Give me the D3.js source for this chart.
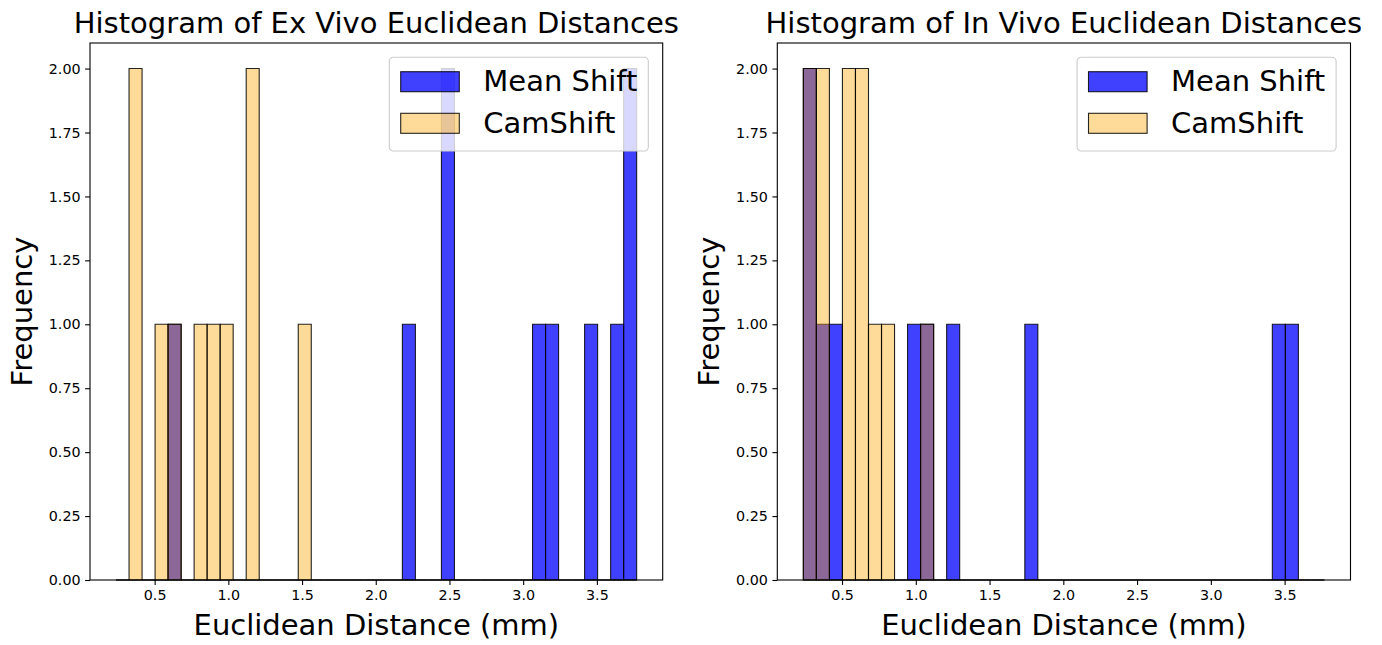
<!DOCTYPE html>
<html>
<head>
<meta charset="utf-8">
<script src="https://cdn.jsdelivr.net/npm/d3@7"></script>
<style>
  body { margin: 0; background: #fff; }
  svg { display: block; font-family: "DejaVu Sans", sans-serif; }
</style>
</head>
<body>
<div id="chart"></div>
<script>
// shared bin edges (40 bins over the combined data range)
var binLo = 0.238,
    binHi = 3.770,
    binCount = 40;

// counts per bin
var exVivoMeanShift = [0,0,0,0,1,0,0,0,0,0, 0,0,0,0,0,0,0,0,0,0, 0,0,1,0,0,2,0,0,0,0, 0,0,1,1,0,0,1,0,1,2];
var exVivoCamShift  = [0,2,0,1,1,0,1,1,1,0, 2,0,0,0,1,0,0,0,0,0, 0,0,0,0,0,0,0,0,0,0, 0,0,0,0,0,0,0,0,0,0];
var inVivoMeanShift = [2,1,1,0,0,0,0,0,1,1, 0,1,0,0,0,0,0,1,0,0, 0,0,0,0,0,0,0,0,0,0, 0,0,0,0,0,0,1,1,0,0];
var inVivoCamShift  = [2,2,0,2,2,1,1,0,0,1, 0,0,0,0,0,0,0,0,0,0, 0,0,0,0,0,0,0,0,0,0, 0,0,0,0,0,0,0,0,0,0];

var seriesNames = ["Mean Shift", "CamShift"];
var xTicks = [0.5, 1.0, 1.5, 2.0, 2.5, 3.0, 3.5];
var yTicks = [0, 0.25, 0.5, 0.75, 1.0, 1.25, 1.5, 1.75, 2.0];

var width = 1382, height = 645;
var bigFont = 29, tickFont = 14.3;

var svg = d3.select("#chart").append("svg")
    .attr("width", width)
    .attr("height", height);

var binW = (binHi - binLo) / binCount;
var pad = 0.05 * (binHi - binLo);

function drawPanel(left, right, title, meanShift, camShift) {
  var top = 43, bottom = 580;

  var x = d3.scaleLinear()
      .domain([binLo - pad, binHi + pad])
      .range([left, right]);
  var y = d3.scaleLinear()
      .domain([0, 2.1])
      .range([bottom, top]);

  var g = svg.append("g");

  // bars drawn as closed paths so zero-height bins still leave a line on the baseline
  function barPath(d, i) {
    var x0 = x(binLo + i * binW), x1 = x(binLo + (i + 1) * binW);
    return "M" + x0 + "," + y(0) + "V" + y(d) + "H" + x1 + "V" + y(0) + "Z";
  }

  g.selectAll(".ms")
    .data(meanShift)
    .enter()
    .append("path")
    .attr("class", "ms")
    .attr("d", barPath)
    .attr("fill", "blue")
    .attr("fill-opacity", 0.75)
    .attr("stroke", "#000")
    .attr("stroke-opacity", 0.85)
    .attr("stroke-width", 1.1);

  g.selectAll(".cs")
    .data(camShift)
    .enter()
    .append("path")
    .attr("class", "cs")
    .attr("d", barPath)
    .attr("fill", "orange")
    .attr("fill-opacity", 0.4)
    .attr("stroke", "#000")
    .attr("stroke-opacity", 0.85)
    .attr("stroke-width", 1.1);

  // axes
  var xAxis = d3.axisBottom(x).tickValues(xTicks).tickFormat(d3.format(".1f"))
      .tickSizeInner(4.9).tickSizeOuter(0).tickPadding(4.5);
  var yAxis = d3.axisLeft(y).tickValues(yTicks).tickFormat(d3.format(".2f"))
      .tickSizeInner(4.9).tickSizeOuter(0).tickPadding(4.5);

  var gx = g.append("g").attr("transform", "translate(0," + bottom + ")").call(xAxis);
  var gy = g.append("g").attr("transform", "translate(" + left + ",0)").call(yAxis);
  gx.select(".domain").remove();
  gy.select(".domain").remove();
  [gx, gy].forEach(function(a) {
    a.selectAll("text").attr("font-family", "DejaVu Sans").attr("font-size", tickFont).attr("fill", "#000");
    a.selectAll("line").attr("stroke", "#000").attr("stroke-width", 1.1);
  });

  // frame
  g.append("rect")
    .attr("x", left).attr("y", top)
    .attr("width", right - left).attr("height", bottom - top)
    .attr("fill", "none")
    .attr("stroke", "#000")
    .attr("stroke-width", 1.1);

  // titles
  g.append("text")
    .attr("x", (left + right) / 2).attr("y", 33)
    .attr("text-anchor", "middle")
    .attr("font-size", bigFont)
    .text(title);

  g.append("text")
    .attr("x", (left + right) / 2).attr("y", 635)
    .attr("text-anchor", "middle")
    .attr("font-size", bigFont)
    .text("Euclidean Distance (mm)");

  g.append("text")
    .attr("transform", "translate(" + (left - 58) + "," + ((top + bottom) / 2) + ")rotate(-90)")
    .attr("text-anchor", "middle")
    .attr("font-size", bigFont)
    .text("Frequency");

  // legend
  var lw = 259, lh = 93.7;
  var lx = right - 14.4 - lw, ly = top + 14.3;
  var legend = g.append("g").attr("transform", "translate(" + lx + "," + ly + ")");
  legend.append("rect")
    .attr("width", lw).attr("height", lh)
    .attr("rx", 4).attr("ry", 4)
    .attr("fill", "#fff").attr("fill-opacity", 0.8)
    .attr("stroke", "#ccc").attr("stroke-width", 1.1);

  var items = legend.selectAll(".item")
    .data(seriesNames)
    .enter()
    .append("g")
    .attr("transform", function(d, i) { return "translate(11.4," + (14.4 + i * 41.6) + ")"; });

  items.append("rect")
    .attr("width", 58.6).attr("height", 20)
    .attr("fill", function(d, i) { return i === 0 ? "blue" : "orange"; })
    .attr("fill-opacity", function(d, i) { return i === 0 ? 0.75 : 0.4; })
    .attr("stroke", "#000").attr("stroke-opacity", 0.85).attr("stroke-width", 1.1);

  items.append("text")
    .attr("x", 82.6).attr("y", 19.5)
    .attr("font-size", bigFont)
    .text(function(d) { return d; });
}

drawPanel(90, 662.7, "Histogram of Ex Vivo Euclidean Distances", exVivoMeanShift, exVivoCamShift);
drawPanel(777.3, 1350.5, "Histogram of In Vivo Euclidean Distances", inVivoMeanShift, inVivoCamShift);
</script>
</body>
</html>
